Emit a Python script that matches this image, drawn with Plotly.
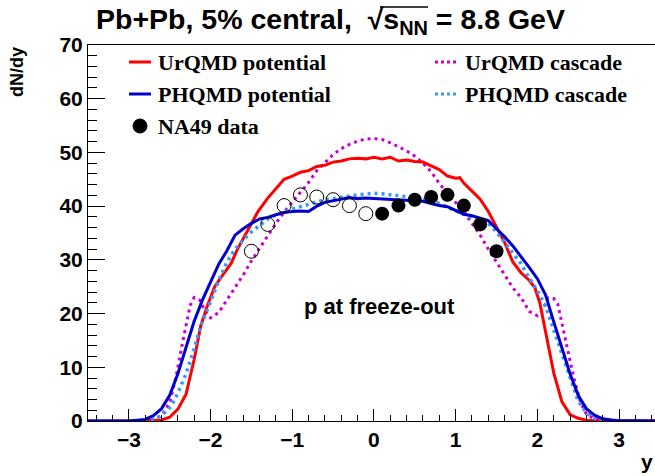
import plotly.graph_objects as go

# ---- data ----
urqmd_pot_x = [-3.5, -2.9, -2.6, -2.5, -2.4, -2.3, -2.2, -2.12, -2.05, -1.95, -1.85, -1.75, -1.67, -1.55, -1.42, -1.3, -1.2, -1.1, -1.0, -0.9, -0.8, -0.7, -0.6, -0.5, -0.4, -0.3, -0.2, -0.1, 0.0, 0.1, 0.2, 0.3, 0.4, 0.5, 0.6, 0.7, 0.8, 0.9, 1.0, 1.05, 1.1, 1.2, 1.3, 1.4, 1.5, 1.6, 1.7, 1.8, 1.9, 1.97, 2.03, 2.08, 2.13, 2.2, 2.3, 2.4, 2.5, 2.6, 2.7, 3.5]
urqmd_pot_y = [0, 0, 0.2, 0.7, 2.2, 5.0, 11.5, 17.7, 21.0, 25.0, 27.2, 29.3, 32.0, 35.5, 39.0, 41.5, 43.3, 45.0, 45.6, 46.3, 46.6, 47.4, 47.6, 48.2, 48.4, 48.8, 48.9, 48.8, 49.1, 48.8, 49.1, 48.4, 48.6, 48.3, 48.2, 47.5, 46.8, 45.6, 45.2, 45.3, 44.3, 42.8, 41.3, 39.0, 36.0, 33.2, 29.6, 27.6, 26.2, 24.8, 22.0, 18.0, 14.6, 9.0, 3.6, 1.2, 0.5, 0.15, 0.05, 0]

urqmd_cas_x = [-3.5, -2.8, -2.7, -2.6, -2.5, -2.42, -2.36, -2.3, -2.25, -2.2, -2.13, -2.07, -2.0, -1.9, -1.8, -1.7, -1.6, -1.5, -1.4, -1.3, -1.2, -1.1, -1.0, -0.9, -0.8, -0.7, -0.6, -0.5, -0.4, -0.3, -0.2, -0.1, 0.0, 0.1, 0.2, 0.3, 0.4, 0.5, 0.6, 0.7, 0.8, 0.9, 1.0, 1.1, 1.2, 1.3, 1.4, 1.5, 1.6, 1.7, 1.8, 1.9, 2.0, 2.07, 2.13, 2.2, 2.25, 2.3, 2.37, 2.45, 2.53, 2.6, 2.7, 2.8, 3.5]
urqmd_cas_y = [0, 0, 0.3, 1.0, 3.4, 8.4, 13.3, 17.7, 21.5, 23.0, 22.5, 20.5, 19.2, 20.2, 22.5, 25.0, 27.2, 29.8, 32.2, 34.4, 36.8, 38.9, 40.8, 42.6, 44.4, 46.6, 48.2, 49.6, 50.7, 51.5, 52.1, 52.5, 52.6, 52.4, 51.8, 51.1, 50.3, 49.3, 48.0, 46.4, 44.2, 42.4, 40.7, 39.0, 36.8, 34.6, 32.0, 29.6, 27.0, 24.8, 23.0, 20.4, 19.6, 20.8, 22.9, 22.8, 21.8, 18.5, 13.3, 7.8, 3.4, 1.3, 0.4, 0, 0]

phqmd_pot_x = [-3.5, -3.0, -2.8, -2.7, -2.6, -2.5, -2.4, -2.3, -2.2, -2.1, -2.0, -1.9, -1.8, -1.7, -1.6, -1.5, -1.4, -1.3, -1.2, -1.1, -1.0, -0.9, -0.8, -0.7, -0.6, -0.5, -0.4, -0.3, -0.2, -0.1, 0.0, 0.1, 0.2, 0.3, 0.4, 0.5, 0.6, 0.7, 0.8, 0.9, 1.0, 1.1, 1.2, 1.3, 1.4, 1.5, 1.6, 1.7, 1.8, 1.9, 2.0, 2.1, 2.2, 2.3, 2.4, 2.5, 2.6, 2.7, 2.8, 2.95, 3.5]
phqmd_pot_y = [0, 0, 0.3, 1.0, 2.3, 4.8, 8.8, 13.6, 18.6, 22.5, 25.8, 29.2, 31.7, 34.6, 35.8, 36.8, 37.6, 37.9, 38.4, 38.8, 39.0, 39.1, 39.0, 40.0, 40.7, 41.0, 41.3, 41.6, 41.4, 41.5, 41.4, 41.3, 41.2, 41.1, 41.0, 41.0, 40.9, 40.5, 40.1, 39.9, 39.2, 38.5, 38.2, 37.8, 37.3, 35.8, 34.3, 32.6, 30.7, 28.6, 26.5, 23.5, 18.5, 13.5, 8.8, 4.8, 2.3, 1.1, 0.4, 0.1, 0]

phqmd_cas_x = [-3.5, -2.9, -2.75, -2.65, -2.55, -2.48, -2.4, -2.3, -2.2, -2.12, -2.0, -1.9, -1.8, -1.7, -1.6, -1.5, -1.4, -1.3, -1.2, -1.1, -1.0, -0.9, -0.8, -0.7, -0.6, -0.5, -0.4, -0.3, -0.2, -0.1, 0.0, 0.1, 0.2, 0.3, 0.4, 0.5, 0.6, 0.7, 0.8, 0.9, 1.0, 1.1, 1.2, 1.3, 1.4, 1.5, 1.6, 1.7, 1.8, 1.9, 2.0, 2.1, 2.2, 2.3, 2.4, 2.5, 2.6, 2.7, 2.8, 3.5]
phqmd_cas_y = [0, 0, 0.2, 0.6, 1.7, 2.8, 5.2, 8.8, 13.5, 17.7, 22.2, 26.2, 29.6, 32.0, 33.7, 35.2, 36.4, 37.6, 38.4, 39.0, 39.5, 39.9, 40.3, 40.8, 41.2, 41.4, 41.7, 41.9, 42.1, 42.2, 42.4, 42.3, 42.1, 41.9, 41.8, 41.6, 41.4, 41.0, 40.5, 39.8, 39.1, 38.5, 37.8, 37.3, 36.8, 35.2, 33.2, 31.2, 29.3, 26.6, 24.3, 21.4, 17.0, 12.3, 7.8, 3.7, 1.5, 0.5, 0.1, 0]

na49_y = [0.1, 0.3, 0.5, 0.7, 0.9, 1.1, 1.3, 1.5]
na49_dndy = [38.6, 40.1, 41.2, 41.7, 42.1, 40.1, 36.6, 31.6]
na49_y_refl = [-v for v in na49_y]

x_range = [-3.5, 3.44]
y_range = [0, 70]

RED = "#ff0000"
BLUE = "#0000cc"
MAG = "#cc00cc"
LBLUE = "#3399ff"

fig = go.Figure()
fig.add_trace(go.Scatter(x=urqmd_cas_x, y=urqmd_cas_y, mode="lines",
                         line=dict(color=MAG, width=3, dash="3px,4px"), name="UrQMD cascade"))
fig.add_trace(go.Scatter(x=urqmd_pot_x, y=urqmd_pot_y, mode="lines",
                         line=dict(color=RED, width=3), name="UrQMD potential"))
fig.add_trace(go.Scatter(x=phqmd_cas_x, y=phqmd_cas_y, mode="lines",
                         line=dict(color=LBLUE, width=3.5, dash="3px,4px"), name="PHQMD cascade"))
fig.add_trace(go.Scatter(x=phqmd_pot_x, y=phqmd_pot_y, mode="lines",
                         line=dict(color=BLUE, width=3), name="PHQMD potential"))
fig.add_trace(go.Scatter(x=na49_y_refl, y=na49_dndy, mode="markers",
                         marker=dict(symbol="circle-open", size=14, color="black", line=dict(width=1)),
                         name="NA49 reflected"))
fig.add_trace(go.Scatter(x=na49_y, y=na49_dndy, mode="markers",
                         marker=dict(symbol="circle", size=14, color="black"),
                         name="NA49 data"))

L, T, W, H = 88, 45, 567, 376
def px(xp):
    return (xp - L) / W
def py(yp):
    return (T + H - yp) / H

shapes = []
annotations = []
legend_items = [
    ("UrQMD potential", RED, "solid", 129, 151, 156, 62),
    ("UrQMD cascade", MAG, "dot", 435, 458, 463, 62),
    ("PHQMD potential", BLUE, "solid", 129, 151, 156, 94),
    ("PHQMD cascade", LBLUE, "dot", 435, 458, 463, 94),
]
for label, col, dash, x0, x1, xt, yy in legend_items:
    shapes.append(dict(type="line", xref="paper", yref="paper", x0=px(x0), x1=px(x1),
                       y0=py(yy), y1=py(yy), line=dict(color=col, width=3, dash=dash)))
    annotations.append(dict(text="<b>%s</b>" % label, xref="paper", yref="paper", x=px(xt), y=py(yy),
                            xanchor="left", yanchor="middle", showarrow=False,
                            font=dict(family="Liberation Serif", size=22, color="black")))
shapes.append(dict(type="circle", xref="paper", yref="paper", xsizemode="pixel", ysizemode="pixel",
                   xanchor=px(140), yanchor=py(126), x0=-7, x1=7, y0=-7, y1=7,
                   fillcolor="black", line=dict(color="black", width=1)))
annotations.append(dict(text="<b>NA49 data</b>", xref="paper", yref="paper", x=px(156), y=py(126),
                        xanchor="left", yanchor="middle", showarrow=False,
                        font=dict(family="Liberation Serif", size=22, color="black")))

# title
annotations.append(dict(text="<b>Pb+Pb, 5% central,&nbsp; √s<sub>NN</sub> = 8.8 GeV</b>", xref="paper", yref="paper",
                        x=px(330), y=py(21), xanchor="center", yanchor="middle", showarrow=False,
                        font=dict(family="Liberation Sans", size=28.5, color="black")))
shapes.append(dict(type="line", xref="paper", yref="paper", x0=px(380), x1=px(428), y0=py(7), y1=py(7),
                   line=dict(color="black", width=1.5)))
# inner text
annotations.append(dict(text="<b>p at freeze-out</b>", xref="paper", yref="paper", x=px(379), y=py(306),
                        xanchor="center", yanchor="middle", showarrow=False,
                        font=dict(family="Liberation Sans", size=22, color="black")))
# axis titles
annotations.append(dict(text="<b>dN/dy</b>", xref="paper", yref="paper", x=px(17), y=py(45),
                        xanchor="center", yanchor="top", textangle=-90, showarrow=False,
                        font=dict(family="Liberation Sans", size=18, color="black")))
annotations.append(dict(text="<b>y</b>", xref="paper", yref="paper", x=px(655), y=py(461),
                        xanchor="right", yanchor="middle", showarrow=False,
                        font=dict(family="Liberation Sans", size=21, color="black")))

fig.update_layout(
    width=655, height=476,
    margin=dict(l=L, r=655 - L - W, t=T, b=476 - T - H),
    paper_bgcolor="white", plot_bgcolor="white",
    showlegend=False,
    shapes=shapes, annotations=annotations,
    font=dict(family="Liberation Sans", color="black"),
)
fig.update_xaxes(range=x_range, showgrid=False, zeroline=False, showline=True, mirror=True,
                 linecolor="black", linewidth=1, ticks="inside", ticklen=12, tickwidth=1, tickcolor="black",
                 dtick=1, tick0=0, tickfont=dict(family="Liberation Sans", size=21, color="black"),
                 tickprefix="<b>", ticksuffix="</b>",
                 minor=dict(ticks="inside", dtick=0.2, ticklen=6, tickcolor="black", tickwidth=1, showgrid=False))
fig.update_yaxes(range=y_range, showgrid=False, zeroline=False, showline=True, mirror=True,
                 linecolor="black", linewidth=1, ticks="inside", ticklen=17, tickwidth=1, tickcolor="black",
                 dtick=10, tick0=0, tickfont=dict(family="Liberation Sans", size=21, color="black"),
                 tickprefix="<b>", ticksuffix="</b>",
                 minor=dict(ticks="inside", dtick=2, ticklen=9, tickcolor="black", tickwidth=1, showgrid=False))

fig.write_html("out.html")
